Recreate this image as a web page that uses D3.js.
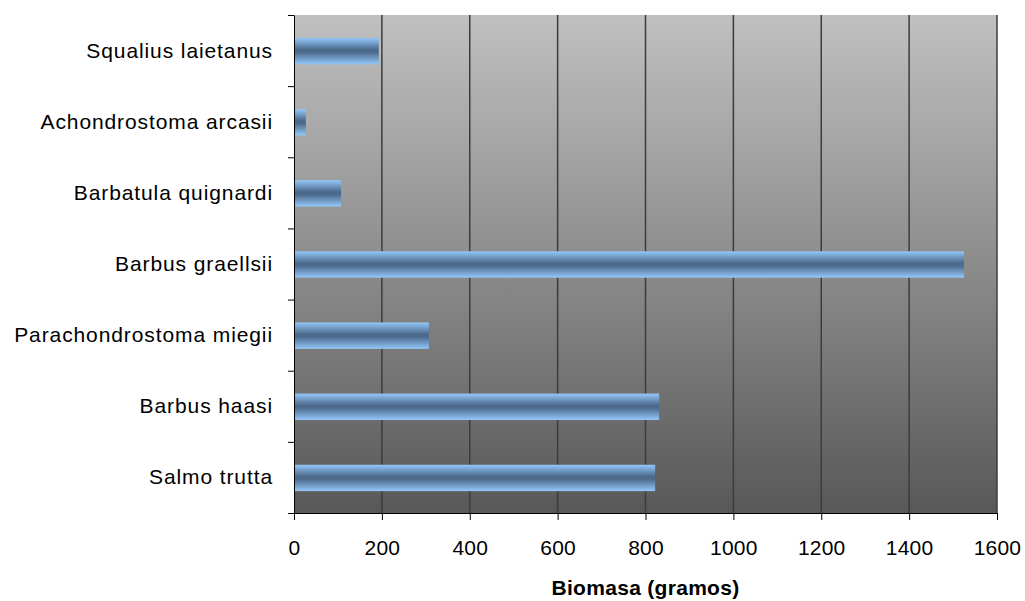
<!DOCTYPE html>
<html>
<head>
<meta charset="utf-8">
<script src="https://cdn.jsdelivr.net/npm/d3@7"></script>
<style>
  body { margin: 0; background: #fff; }
  text { font-family: "Liberation Sans", Arial, sans-serif; }
</style>
</head>
<body>
<div id="chart"></div>
<script>
// categories top to bottom
const species = ["Squalius laietanus", "Achondrostoma arcasii", "Barbatula quignardi", "Barbus graellsii",
    "Parachondrostoma miegii", "Barbus haasi", "Salmo trutta"];
const biomass = [193, 27, 107, 1525, 307, 831, 822];
const xTicks = [0, 200, 400, 600, 800, 1000, 1200, 1400, 1600];
const xTitle = "Biomasa (gramos)";

const W = 1025, H = 601;
const margin = { top: 15, right: 28, bottom: 88, left: 294 };
const width = W - margin.left - margin.right;
const height = H - margin.top - margin.bottom;

const svg = d3.select("#chart").append("svg")
    .attr("width", W).attr("height", H);

const defs = svg.append("defs");

// plot background gradient
const bg = defs.append("linearGradient").attr("id", "bg")
    .attr("x1", 0).attr("y1", 0).attr("x2", 0).attr("y2", 1);
bg.append("stop").attr("offset", "0%").attr("stop-color", "#c0c0c0");
bg.append("stop").attr("offset", "100%").attr("stop-color", "#585858");

// bar gradient (light-dark-light)
const bar = defs.append("linearGradient").attr("id", "bar")
    .attr("x1", 0).attr("y1", 0).attr("x2", 0).attr("y2", 1);
bar.append("stop").attr("offset", "0%").attr("stop-color", "#94c8fa");
bar.append("stop").attr("offset", "45%").attr("stop-color", "#4b6889");
bar.append("stop").attr("offset", "55%").attr("stop-color", "#4d6b8e");
bar.append("stop").attr("offset", "100%").attr("stop-color", "#94c8fa");

const g = svg.append("g").attr("transform", `translate(${margin.left},${margin.top})`);

const x = d3.scaleLinear().domain([0, 1600]).range([0, width]);
const y = d3.scaleBand().domain(species).range([0, height])
    .paddingInner(0.615).paddingOuter(0.3075);
const yEdges = d3.scaleLinear().domain([0, species.length]).range([0, height]);

g.append("rect")
    .attr("width", width).attr("height", height)
    .attr("fill", "url(#bg)");

// vertical gridlines
g.selectAll(".grid").data(xTicks.slice(1))
    .enter().append("line")
    .attr("class", "grid")
    .attr("x1", d => x(d)).attr("x2", d => x(d))
    .attr("y1", 0).attr("y2", height)
    .attr("stroke", "#3c3c3c")
    .attr("stroke-width", 1.5);

// bars
g.selectAll(".bar").data(species)
    .enter().append("rect")
    .attr("class", "bar")
    .attr("x", 0)
    .attr("y", d => y(d) + 1)
    .attr("width", (d, i) => x(biomass[i]))
    .attr("height", y.bandwidth() - 1)
    .attr("fill", "url(#bar)");

// category labels
g.selectAll(".cat").data(species)
    .enter().append("text")
    .attr("class", "cat")
    .attr("x", -21)
    .attr("y", d => y(d) + y.bandwidth() / 2 + 7)
    .attr("text-anchor", "end")
    .style("font-size", "21px")
    .style("letter-spacing", "0.9px")
    .attr("fill", "#000")
    .text(d => d);

// y axis with ticks at band edges
const yAxis = g.append("g")
    .call(d3.axisLeft(yEdges).tickValues(d3.range(species.length + 1)).tickFormat("").tickSize(6).tickSizeOuter(0));
yAxis.select(".domain").attr("stroke", "#000");
yAxis.selectAll("line").attr("stroke", "#000");

// x axis
const xAxis = g.append("g")
    .attr("transform", `translate(0,${height})`)
    .call(d3.axisBottom(x).tickValues(xTicks).tickFormat(d3.format("d"))
        .tickSize(7).tickSizeOuter(0).tickPadding(20));
xAxis.select(".domain").attr("stroke", "#000");
xAxis.selectAll("line").attr("stroke", "#000");
xAxis.selectAll("text")
    .style("font-size", "21px")
    .style("letter-spacing", "0.2px")
    .style("font-family", "'Liberation Sans', Arial, sans-serif")
    .attr("fill", "#000");

// x axis title
svg.append("text")
    .attr("x", margin.left + width / 2)
    .attr("y", 595)
    .attr("text-anchor", "middle")
    .style("font-size", "21px")
    .style("letter-spacing", "0.3px")
    .style("font-weight", "bold")
    .text(xTitle);
</script>
</body>
</html>
